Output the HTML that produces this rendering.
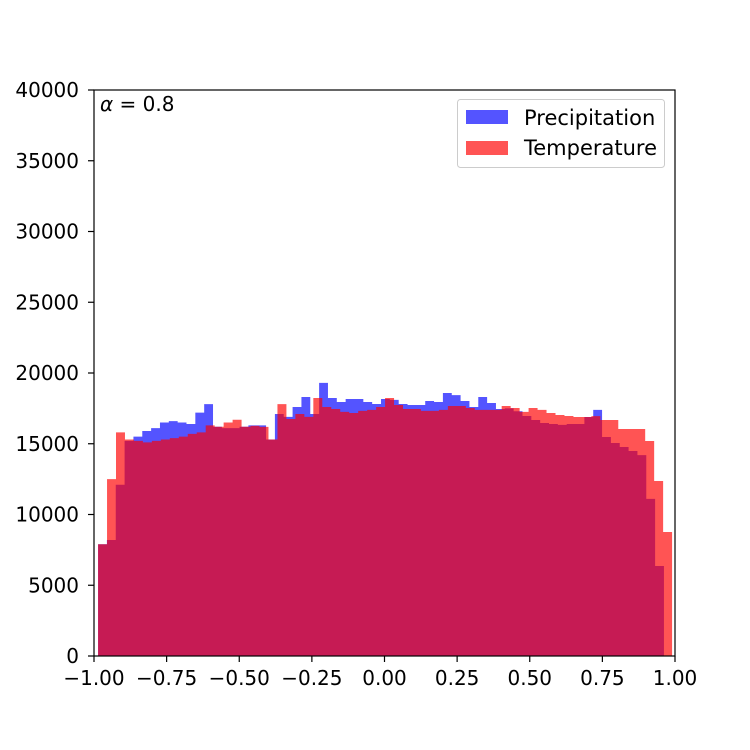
<!DOCTYPE html>
<html><head><meta charset="utf-8"><style>body{margin:0;background:#fff}svg{display:block}text{font-family:"DejaVu Sans","Liberation Sans",sans-serif;font-size:20px;fill:#000}</style></head>
<body>
<svg id="chart" width="750" height="750" viewBox="0 0 750 750" xmlns="http://www.w3.org/2000/svg" style="position:absolute;left:0;top:0">
<g id="bars"></g>
<g id="axes"></g>
<text x="100" y="111"><tspan font-style="italic">α</tspan> = 0.8</text>
<g>
<rect x="457.5" y="99.5" width="207" height="68" rx="3" fill="#fff" fill-opacity="0.8" stroke="#ccc"/>
<rect x="466" y="110" width="42" height="14" fill="#0000ff" fill-opacity="0.67"/>
<text x="524" y="125" style="font-size:21px">Precipitation</text>
<rect x="466" y="141" width="42" height="14" fill="#ff0000" fill-opacity="0.67"/>
<text x="524" y="155" style="font-size:21px">Temperature</text>
</g>
</svg>
<script>
const precipRange = [-0.986, 0.962];
const precipCounts = [7900,8200,12100,15200,15500,15900,16100,16500,16600,16500,16400,17200,17800,16200,16100,16100,16200,16300,16300,15300,17100,16900,17600,18300,17100,19300,
18230,17950,18160,18160,17950,17810,18160,18100,17810,17740,17740,18020,17950,18590,18440,18020,17600,18300,17880,17460,17500,17300,16960,16680,16470,16400,16330,16400,16400,16890,17390,15480,15050,14770,14490,14200,11100,6360];
const tempRange = [-0.986, 0.990];
const tempCounts = [7900,12500,15800,15300,15200,15100,15200,15300,15400,15500,15700,15800,16300,16200,16500,16700,16200,16260,16190,15300,17800,16750,17100,16900,18230,
17600,17460,17250,17170,17320,17390,17600,18230,17740,17460,17460,17320,17320,17390,17670,17670,17530,17390,17390,17390,17670,17530,17250,17530,17390,17170,17030,16960,16890,16890,16950,16680,16680,16040,16040,16040,15190,12370,8760];
const xTicks = [-1,-0.75,-0.5,-0.25,0,0.25,0.5,0.75,1];
const xTickLabels = ["\u22121.00","\u22120.75","\u22120.50","\u22120.25","0.00","0.25","0.50","0.75","1.00"];
const yTicks = [0,5000,10000,15000,20000,25000,30000,35000,40000];

const L=94,R=675,T=90,B=656;
const xs=v=>L+(v+1)/2*(R-L);
const ys=v=>B-v/40000*(B-T);
const NS="http://www.w3.org/2000/svg";
function mk(tag,attrs,parent){const e=document.createElementNS(NS,tag);for(const k in attrs)e.setAttribute(k,attrs[k]);parent.appendChild(e);return e;}
const bars=document.getElementById('bars'),axes=document.getElementById('axes');
function drawHist(counts,range,color,name){
  const w=(range[1]-range[0])/counts.length;
  let d='M'+xs(range[0])+','+B;
  counts.forEach((c,i)=>{
    const x0=xs(range[0]+i*w),x1=xs(range[0]+(i+1)*w);
    d+=' L'+x0+','+ys(c)+' L'+x1+','+ys(c);
  });
  d+=' L'+xs(range[1])+','+B+' Z';
  const p=mk('path',{d:d,fill:color,'fill-opacity':0.67},bars);
  
  
}
drawHist(precipCounts,precipRange,'#0000ff','precipitation');
drawHist(tempCounts,tempRange,'#ff0000','temperature');
const frame=mk('rect',{x:L,y:T,width:R-L,height:B-T,fill:'none',stroke:'#000','stroke-width':1.2},axes);


xTicks.forEach((t,i)=>{
  mk('line',{x1:xs(t),x2:xs(t),y1:B,y2:B+6,stroke:'#000','stroke-width':1.2},axes);
  const tx=mk('text',{x:xs(t),y:B+29,'text-anchor':'middle'},axes);tx.textContent=xTickLabels[i];
  
  
});
yTicks.forEach(t=>{
  mk('line',{x1:L-6,x2:L,y1:ys(t),y2:ys(t),stroke:'#000','stroke-width':1.2},axes);
  const tx=mk('text',{x:L-15,y:ys(t)+7,'text-anchor':'end'},axes);tx.textContent=String(t);
  
  
});
</script>
</body></html>
